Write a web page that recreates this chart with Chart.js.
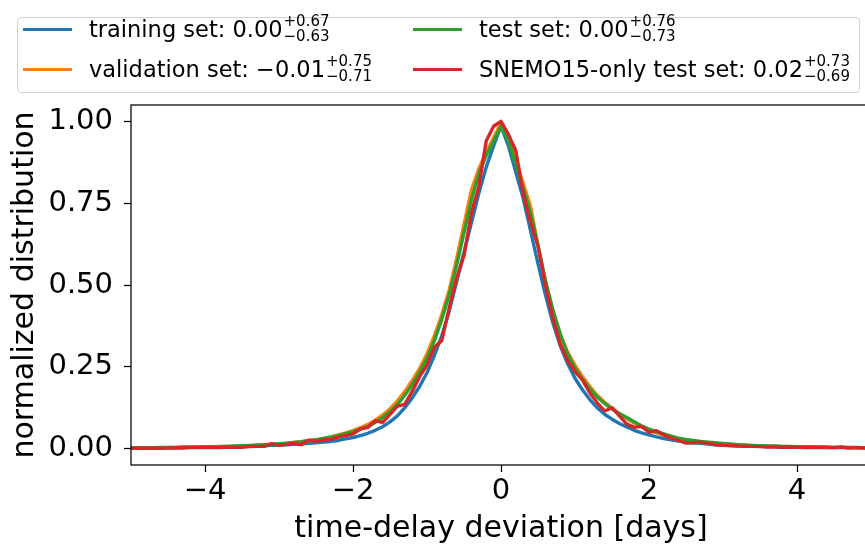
<!DOCTYPE html>
<html>
<head>
<meta charset="utf-8">
<script src="https://cdn.jsdelivr.net/npm/chart.js@4"></script>
<style>
  html, body { margin: 0; padding: 0; background: #fff; overflow: hidden; }
  body { width: 865px; height: 548px; position: relative; font-family: "DejaVu Sans", sans-serif; }
  #wrap { position: absolute; left: 0; top: 0; width: 880px; height: 548px; }
  #legend {
    position: absolute; left: 17px; top: 17px; width: 841px; height: 74px;
    border: 1px solid #d0d0d0; border-radius: 4px; background: #fff;
  }
  .entry { position: absolute; height: 30px; display: flex; align-items: center; font-size: 22.5px; color: #000; white-space: nowrap; }
  .handle { display: inline-block; width: 49px; height: 3px; margin-right: 17px; }
  .pm { display: inline-flex; flex-direction: column; font-size: 15px; line-height: 15px; margin-left: 1px; }
</style>
</head>
<body>
<div id="wrap"><canvas id="chart" width="880" height="548"></canvas></div>
<div id="legend"></div>
<script>
// bin centres of the time-delay deviation histograms [days]
const days = [
  -5.0, -4.9, -4.8, -4.7, -4.6, -4.5, -4.4, -4.3, -4.2, -4.1,
  -4.0, -3.9, -3.8, -3.7, -3.6, -3.5, -3.4, -3.3, -3.2, -3.1,
  -3.0, -2.9, -2.8, -2.7, -2.6, -2.5, -2.4, -2.3, -2.2, -2.1,
  -2.0, -1.9, -1.8, -1.7, -1.6, -1.5, -1.4, -1.3, -1.2, -1.1,
  -1.0, -0.9, -0.8, -0.7, -0.6, -0.5, -0.4, -0.3, -0.2, -0.1,
  0.0,
  0.1, 0.2, 0.3, 0.4, 0.5, 0.6, 0.7, 0.8, 0.9, 1.0,
  1.1, 1.2, 1.3, 1.4, 1.5, 1.6, 1.7, 1.8, 1.9, 2.0,
  2.1, 2.2, 2.3, 2.4, 2.5, 2.6, 2.7, 2.8, 2.9, 3.0,
  3.1, 3.2, 3.3, 3.4, 3.5, 3.6, 3.7, 3.8, 3.9, 4.0,
  4.1, 4.2, 4.3, 4.4, 4.5, 4.6, 4.7, 4.8, 4.9, 5.0
];

const trainingSet = [
  0.002, 0.002, 0.002, 0.003, 0.003, 0.003, 0.003, 0.004, 0.004, 0.004,
  0.004, 0.005, 0.005, 0.006, 0.006, 0.007, 0.007, 0.008, 0.009, 0.010,
  0.011, 0.012, 0.013, 0.014, 0.016, 0.018, 0.020, 0.022, 0.025, 0.030,
  0.034, 0.040, 0.047, 0.056, 0.067, 0.082, 0.100, 0.125, 0.155, 0.190,
  0.232, 0.285, 0.345, 0.420, 0.510, 0.600, 0.690, 0.780, 0.860, 0.925,
  0.985,
  0.925, 0.845, 0.765, 0.665, 0.565, 0.470, 0.385, 0.315, 0.260, 0.215,
  0.180, 0.150, 0.125, 0.105, 0.090, 0.077, 0.066, 0.056, 0.048, 0.042,
  0.036, 0.031, 0.027, 0.023, 0.020, 0.018, 0.016, 0.014, 0.012, 0.011,
  0.010, 0.009, 0.008, 0.007, 0.007, 0.006, 0.006, 0.005, 0.005, 0.005,
  0.004, 0.004, 0.004, 0.004, 0.003, 0.003, 0.003, 0.003, 0.003, 0.002
];

const validationSet = [
  0.002, 0.002, 0.003, 0.003, 0.003, 0.003, 0.004, 0.004, 0.004, 0.005,
  0.005, 0.006, 0.006, 0.007, 0.007, 0.008, 0.009, 0.010, 0.012, 0.013,
  0.014, 0.016, 0.019, 0.021, 0.024, 0.027, 0.031, 0.036, 0.042, 0.048,
  0.055, 0.064, 0.074, 0.087, 0.103, 0.122, 0.146, 0.175, 0.208, 0.245,
  0.290, 0.345, 0.410, 0.485, 0.580, 0.685, 0.790, 0.855, 0.905, 0.950,
  0.995,
  0.950, 0.880, 0.810, 0.740, 0.620, 0.510, 0.420, 0.350, 0.295, 0.255,
  0.220, 0.190, 0.163, 0.142, 0.124, 0.107, 0.092, 0.078, 0.066, 0.056,
  0.048, 0.041, 0.035, 0.030, 0.026, 0.023, 0.020, 0.018, 0.016, 0.014,
  0.013, 0.011, 0.010, 0.009, 0.008, 0.008, 0.007, 0.007, 0.006, 0.006,
  0.005, 0.005, 0.005, 0.004, 0.004, 0.004, 0.003, 0.003, 0.003, 0.003
];

const testSet = [
  0.003, 0.003, 0.003, 0.003, 0.004, 0.004, 0.004, 0.005, 0.005, 0.005,
  0.006, 0.006, 0.007, 0.007, 0.008, 0.009, 0.010, 0.011, 0.012, 0.013,
  0.015, 0.017, 0.019, 0.021, 0.024, 0.027, 0.031, 0.035, 0.040, 0.046,
  0.052, 0.060, 0.068, 0.080, 0.095, 0.113, 0.135, 0.163, 0.196, 0.233,
  0.276, 0.330, 0.395, 0.470, 0.560, 0.660, 0.760, 0.840, 0.895, 0.940,
  0.985,
  0.940, 0.870, 0.795, 0.720, 0.620, 0.515, 0.425, 0.350, 0.290, 0.245,
  0.212, 0.183, 0.158, 0.138, 0.121, 0.107, 0.095, 0.082, 0.070, 0.060,
  0.052, 0.045, 0.038, 0.032, 0.028, 0.025, 0.022, 0.020, 0.018, 0.016,
  0.014, 0.012, 0.011, 0.010, 0.009, 0.008, 0.008, 0.007, 0.007, 0.006,
  0.006, 0.005, 0.005, 0.005, 0.004, 0.004, 0.004, 0.004, 0.003, 0.003
];

const snemoTestSet = [
  0.001, 0.001, 0.001, 0.002, 0.001, 0.002, 0.002, 0.002, 0.003, 0.003,
  0.004, 0.003, 0.003, 0.005, 0.004, 0.004, 0.006, 0.007, 0.007, 0.015,
  0.010, 0.013, 0.017, 0.012, 0.026, 0.022, 0.027, 0.028, 0.035, 0.040,
  0.045, 0.060, 0.065, 0.085, 0.080, 0.105, 0.130, 0.135, 0.175, 0.220,
  0.255, 0.310, 0.330, 0.430, 0.520, 0.590, 0.720, 0.800, 0.940, 0.985,
  1.000,
  0.960, 0.910, 0.780, 0.690, 0.620, 0.500, 0.400, 0.320, 0.270, 0.235,
  0.210, 0.170, 0.140, 0.115, 0.125, 0.100, 0.075, 0.065, 0.068, 0.050,
  0.055, 0.042, 0.032, 0.025, 0.017, 0.018, 0.020, 0.016, 0.012, 0.010,
  0.009, 0.008, 0.007, 0.007, 0.006, 0.005, 0.005, 0.004, 0.005, 0.004,
  0.003, 0.004, 0.003, 0.003, 0.003, 0.005, 0.002, 0.003, 0.002, 0.002
];

const xTicks = [-4, -2, 0, 2, 4];
const yTicks = [0, 0.25, 0.5, 0.75, 1.0];

// legend: name, median, upper and lower offsets
const seriesNames = ['training set', 'validation set', 'test set', 'SNEMO15-only test set'];
const medians = ['0.00', '\u22120.01', '0.00', '0.02'];
const upperErr = ['+0.67', '+0.75', '+0.76', '+0.73'];
const lowerErr = ['\u22120.63', '\u22120.71', '\u22120.73', '\u22120.69'];
const colors = ['#1f77b4', '#ff7f0e', '#2ca02c', '#d62728'];

const allSeries = [trainingSet, validationSet, testSet, snemoTestSet];
const FONT = '"DejaVu Sans", sans-serif';

// legend box (two columns, filled column-wise)
const legendPos = [
  { left: 5, top: -4 }, { left: 5, top: 36 },
  { left: 395, top: -4 }, { left: 395, top: 36 }
];
const legend = document.getElementById('legend');
seriesNames.forEach((name, i) => {
  const el = document.createElement('div');
  el.className = 'entry';
  el.style.left = legendPos[i].left + 'px';
  el.style.top = legendPos[i].top + 'px';
  el.innerHTML = `<span class="handle" style="background:${colors[i]}"></span>` +
    `<span>${name}: ${medians[i]}</span>` +
    `<span class="pm"><span>${upperErr[i]}</span><span>${lowerErr[i]}</span></span>`;
  legend.appendChild(el);
});

// full axes frame, drawn over the lines like matplotlib spines
const framePlugin = {
  id: 'frame',
  afterDatasetsDraw(chart) {
    const { ctx, chartArea: a } = chart;
    ctx.save();
    ctx.strokeStyle = '#000';
    ctx.lineWidth = 1.25;
    ctx.strokeRect(a.left, a.top, a.right - a.left, a.bottom - a.top);
    ctx.restore();
  }
};

const fmtX = v => (v < 0 ? '\u2212' + Math.abs(v) : String(v));

new Chart(document.getElementById('chart'), {
  type: 'line',
  data: {
    datasets: allSeries.map((vals, i) => ({
      label: seriesNames[i],
      data: days.map((d, j) => ({ x: d, y: vals[j] })),
      borderColor: colors[i],
      backgroundColor: colors[i],
      order: allSeries.length - i
    }))
  },
  options: {
    responsive: false,
    animation: false,
    layout: { padding: { top: 105, right: 9, left: 0, bottom: 0 } },
    plugins: { legend: { display: false }, tooltip: { enabled: false } },
    elements: {
      point: { radius: 0 },
      line: { borderWidth: 3.4, tension: 0, borderJoinStyle: 'round', borderCapStyle: 'round' }
    },
    scales: {
      x: {
        type: 'linear',
        min: -5,
        max: 5,
        afterBuildTicks: s => { s.ticks = xTicks.map(v => ({ value: v })); },
        afterFit: s => { s.height = 83; },
        border: { display: false },
        grid: { drawOnChartArea: false, drawTicks: true, tickLength: 7, tickWidth: 1.25, tickColor: '#000' },
        ticks: { color: '#000', font: { family: FONT, size: 29 }, padding: 2, maxRotation: 0, callback: fmtX },
        title: {
          display: true, text: 'time-delay deviation [days]', color: '#000',
          font: { family: FONT, size: 30 }, padding: { top: 0, bottom: 1 }
        }
      },
      y: {
        min: -0.05,
        max: 1.05,
        afterBuildTicks: s => { s.ticks = yTicks.map(v => ({ value: v })); },
        afterFit: s => { s.width = 131; },
        border: { display: false },
        grid: { drawOnChartArea: false, drawTicks: true, tickLength: 7, tickWidth: 1.25, tickColor: '#000' },
        ticks: { color: '#000', font: { family: FONT, size: 29 }, padding: 11, callback: v => v.toFixed(2) },
        title: {
          display: true, text: 'normalized distribution', color: '#000',
          font: { family: FONT, size: 30 }, padding: { top: 7, bottom: 0 }
        }
      }
    }
  },
  plugins: [framePlugin]
});
</script>
</body>
</html>
